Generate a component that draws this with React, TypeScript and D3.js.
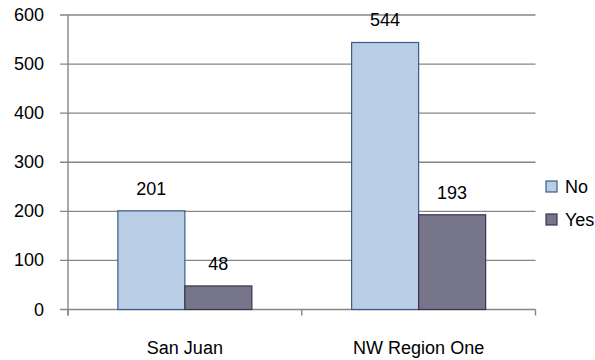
import React from "react";
import * as d3 from "d3";

const categories = ["San Juan", "NW Region One"];
const seriesNames = ["No", "Yes"];
const noValues = [201, 544];
const yesValues = [48, 193];
const yTicks = [0, 100, 200, 300, 400, 500, 600];

const W = 595;
const H = 360;
const FONT = "'Liberation Sans', Arial, sans-serif";
const FS = 18;
const fills = ["#B9CDE5", "#77758A"];
const strokes = ["#385D8A", "#3F3151"];

export default function App() {
  const left = 68;
  const right = 535.5;
  const top = 15;
  const bottom = 309.5;
  const y = d3.scaleLinear().domain([0, 600]).range([bottom, top]);
  const x0 = d3.scaleBand<string>().domain(categories).range([left, right]).paddingInner(0).paddingOuter(0);
  const groupPad = (x0.bandwidth() - 134) / 2;
  const x1 = d3
    .scaleBand<string>()
    .domain(seriesNames)
    .range([groupPad, x0.bandwidth() - groupPad])
    .padding(0);
  const series = [noValues, yesValues];
  const boundaries = [left, ...categories.map((c) => (x0(c) as number) + x0.bandwidth())];

  return (
    <svg width={W} height={H} style={{ position: "absolute", left: 0, top: 0, background: "#fff" }}>
      {yTicks.map((t) => (
        <g key={t}>
          <line x1={60} x2={right} y1={y(t)} y2={y(t)} stroke="#868686" strokeWidth={1.4} />
          <text
            x={44}
            y={y(t)}
            textAnchor="end"
            dominantBaseline="central"
            fontFamily={FONT}
            fontSize={FS}
            fill="#000"
          >
            {t}
          </text>
        </g>
      ))}
      <line x1={left} x2={left} y1={top} y2={bottom + 6} stroke="#868686" strokeWidth={1.4} />
      {boundaries.map((b, i) => (
        <line key={i} x1={b} x2={b} y1={bottom} y2={bottom + 6} stroke="#868686" strokeWidth={1.4} />
      ))}
      {categories.map((c, ci) => (
        <g key={c} transform={`translate(${x0(c)},0)`}>
          {seriesNames.map((s, si) => {
            const v = series[si][ci];
            const bx = x1(s) as number;
            return (
              <g key={s}>
                <rect
                  x={bx}
                  y={y(v)}
                  width={x1.bandwidth()}
                  height={bottom - y(v)}
                  fill={fills[si]}
                  stroke={strokes[si]}
                  strokeWidth={1.2}
                />
                <text
                  x={bx + x1.bandwidth() / 2}
                  y={y(v) - 22}
                  textAnchor="middle"
                  dominantBaseline="central"
                  fontFamily={FONT}
                  fontSize={FS}
                  fill="#000"
                >
                  {v}
                </text>
              </g>
            );
          })}
          <text
            x={x0.bandwidth() / 2}
            y={347.5}
            textAnchor="middle"
            dominantBaseline="central"
            fontFamily={FONT}
            fontSize={FS}
            fill="#000"
          >
            {c}
          </text>
        </g>
      ))}
      {seriesNames.map((s, si) => (
        <g key={s} transform={`translate(546,${186.5 + si * 33})`}>
          <rect x={0} y={-5.5} width={11} height={11} fill={fills[si]} stroke={strokes[si]} strokeWidth={1.2} />
          <text x={19} y={0} dominantBaseline="central" fontFamily={FONT} fontSize={FS} fill="#000">
            {s}
          </text>
        </g>
      ))}
    </svg>
  );
}
